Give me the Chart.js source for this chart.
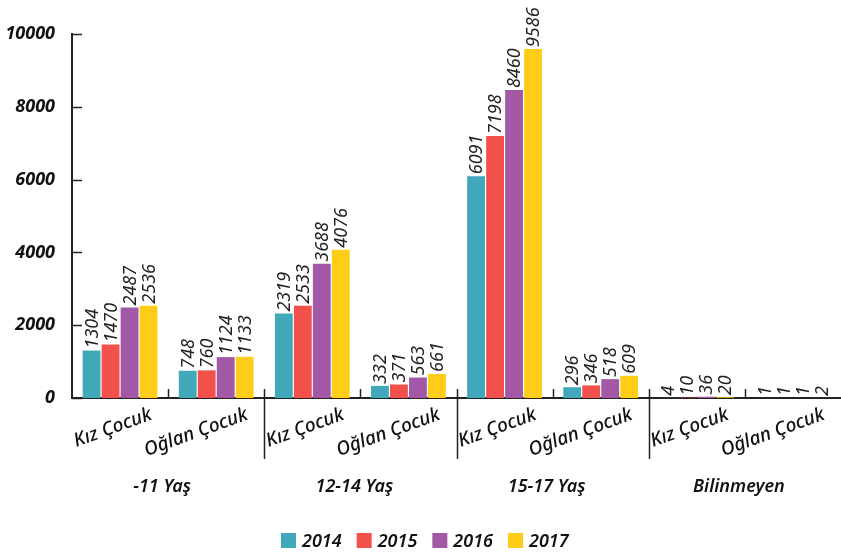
<!DOCTYPE html>
<html>
<head>
<meta charset="utf-8">
<script src="https://cdn.jsdelivr.net/npm/chart.js@4.4.1/dist/chart.umd.min.js"></script>
<style>
  html, body { margin: 0; padding: 0; background: #fff; }
  #wrap { width: 841px; height: 554px; }
</style>
</head>
<body>
<div id="wrap"><canvas id="bar-chart" width="841" height="554"></canvas></div>
<script>
  // categories and groups
  var categories = ["Kız Çocuk", "Oğlan Çocuk", "Kız Çocuk", "Oğlan Çocuk", "Kız Çocuk", "Oğlan Çocuk", "Kız Çocuk", "Oğlan Çocuk"];
  var groups = ["-11 Yaş", "12-14 Yaş", "15-17 Yaş", "Bilinmeyen"];
  var years = ["2014", "2015", "2016", "2017"];
  var colors = ["#41a8b9", "#f2504b", "#a258a4", "#ffcd17"];
  var yTicks = [0, 2000, 4000, 6000, 8000, 10000];

  var v2014 = [1304, 748, 2319, 332, 6091, 296, 4, 1];
  var v2015 = [1470, 760, 2533, 371, 7198, 346, 10, 1];
  var v2016 = [2487, 1124, 3688, 563, 8460, 518, 36, 1];
  var v2017 = [2536, 1133, 4076, 661, 9586, 609, 20, 2];
  var series = [v2014, v2015, v2016, v2017];

  var FONT = "'Noto Sans', 'Open Sans', sans-serif";

  // labels, separators, group names and legend
  var extras = {
    id: 'extras',
    afterDatasetsDraw: function(chart) {
      var ctx = chart.ctx;
      var x = chart.scales.x;
      var y = chart.scales.y;
      var area = chart.chartArea;
      ctx.save();

      // y ticks pointing into the plot
      ctx.strokeStyle = '#222';
      ctx.lineWidth = 1.5;
      yTicks.forEach(function(v) {
        var py = Math.round(y.getPixelForValue(v)) + 0.5;
        ctx.beginPath();
        ctx.moveTo(area.left, py);
        ctx.lineTo(area.left + 10, py);
        ctx.stroke();
      });

      // value labels above bars (vertical)
      ctx.fillStyle = '#222';
      ctx.font = 'italic 18px ' + FONT;
      ctx.textAlign = 'left';
      ctx.textBaseline = 'middle';
      chart.data.datasets.forEach(function(ds, di) {
        chart.getDatasetMeta(di).data.forEach(function(bar, i) {
          ctx.save();
          ctx.translate(bar.x + 1, bar.y - 2);
          ctx.rotate(-Math.PI / 2);
          ctx.fillText(String(ds.data[i]), 0, 0);
          ctx.restore();
        });
      });

      // category ticks and group separators
      var half = (x.getPixelForValue(1) - x.getPixelForValue(0)) / 2;
      for (var i = 1; i < categories.length; i++) {
        var px = Math.round(x.getPixelForValue(i) - half) + 0.5;
        ctx.beginPath();
        ctx.moveTo(px, area.bottom - 9);
        ctx.lineTo(px, i % 2 === 0 ? area.bottom + 61 : area.bottom);
        ctx.stroke();
      }

      // rotated category labels
      ctx.fillStyle = '#111';
      ctx.font = 'italic 500 19px ' + FONT;
      ctx.textAlign = 'right';
      ctx.textBaseline = 'middle';
      categories.forEach(function(c, i) {
        ctx.save();
        ctx.translate(x.getPixelForValue(i) + 31, area.bottom + 16);
        ctx.rotate(-20 * Math.PI / 180);
        ctx.fillText(c, 0, 0);
        ctx.restore();
      });

      // group labels
      ctx.font = 'italic 600 18px ' + FONT;
      ctx.textAlign = 'center';
      groups.forEach(function(g, gi) {
        var cx = (x.getPixelForValue(gi * 2) + x.getPixelForValue(gi * 2 + 1)) / 2 - 6;
        ctx.fillText(g, cx, area.bottom + 89);
      });

      // legend
      ctx.font = 'italic 600 18px ' + FONT;
      ctx.textAlign = 'left';
      var lx = 281;
      years.forEach(function(yr, yi) {
        ctx.fillStyle = colors[yi];
        ctx.fillRect(lx, 533, 15, 15);
        ctx.fillStyle = '#111';
        ctx.fillText(yr, lx + 21, 542);
        lx += 21 + ctx.measureText(yr).width + 15;
      });
      ctx.restore();
    }
  };

  new Chart(document.getElementById("bar-chart"), {
    type: 'bar',
    data: {
      labels: categories,
      datasets: years.map(function(yr, i) {
        return {
          label: yr,
          backgroundColor: colors[i],
          data: series[i],
          categoryPercentage: 0.79,
          barPercentage: 0.94
        };
      })
    },
    options: {
      responsive: false,
      animation: false,
      layout: { padding: { top: 34, right: 0, left: 0, bottom: 0 } },
      plugins: {
        legend: { display: false },
        tooltip: { enabled: false }
      },
      scales: {
        x: {
          grid: { display: false },
          border: { display: true, color: '#222', width: 2 },
          ticks: { display: false },
          afterFit: function(s) { s.height = 156; }
        },
        y: {
          min: 0,
          max: 10000,
          afterBuildTicks: function(s) { s.ticks = yTicks.map(function(v) { return { value: v }; }); },
          afterFit: function(s) { s.width = 72; },
          grid: { display: false },
          border: { display: true, color: '#222', width: 2 },
          ticks: {
            padding: 9,
            color: '#111',
            font: { family: FONT, size: 18, style: 'italic', weight: 'bold' },
            callback: function(v) { return String(v); }
          }
        }
      }
    },
    plugins: [extras]
  });
</script>
</body>
</html>
